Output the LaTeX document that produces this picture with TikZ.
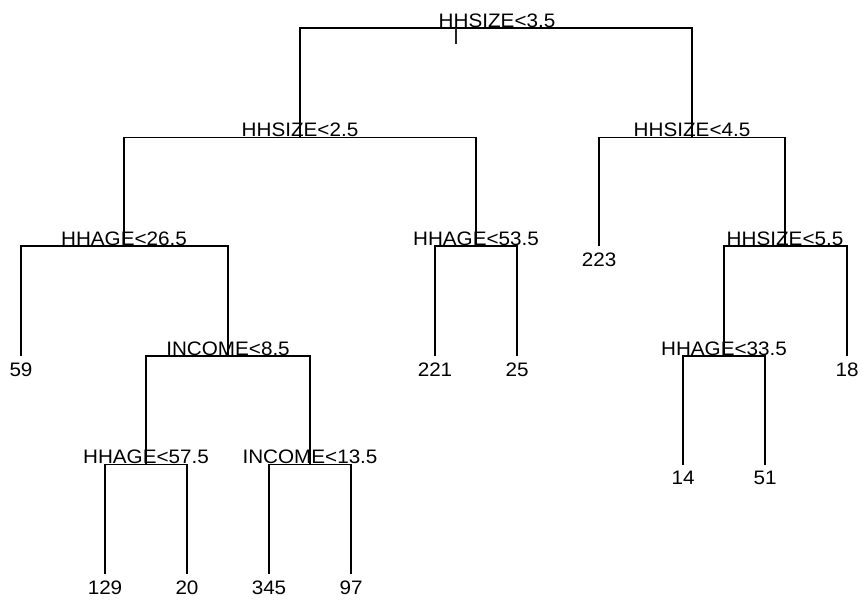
\documentclass[tikz,border=0pt]{standalone}
\usepackage{fontspec}
\setmainfont{Liberation Sans}[FakeStretch=1.06]
\begin{document}
\begin{tikzpicture}[x=1pt,y=-1pt,
  edge/.style={line width=1.9pt, line join=miter},
  tickmark/.style={line width=1.2pt, draw=black!85},
  lbl/.style={inner sep=0pt, anchor=base, text=black,
    font=\fontsize{19.5}{20}\selectfont},
  split/.style={lbl, yshift=1pt},
  leaf/.style={lbl, yshift=-20pt}]
\useasboundingbox (0,0) rectangle (867,600);

% node positions (x at the node, y at its split bar / leaf end)
\coordinate (n1)  at (497,28);
\coordinate (n2)  at (300,137.5);
\coordinate (n3)  at (692,137.5);
\coordinate (n4)  at (124,246);
\coordinate (n5)  at (476,246);
\coordinate (n6)  at (599,246);
\coordinate (n7)  at (785,246);
\coordinate (n8)  at (21,356);
\coordinate (n9)  at (228,356);
\coordinate (n10) at (435,356);
\coordinate (n11) at (517,356);
\coordinate (n14) at (724,356);
\coordinate (n15) at (847,356);
\coordinate (n18) at (146,464.5);
\coordinate (n19) at (310,464.5);
\coordinate (n28) at (683,464.5);
\coordinate (n29) at (765,464.5);
\coordinate (n36) at (105,574);
\coordinate (n37) at (187,574);
\coordinate (n38) at (269,574);
\coordinate (n39) at (351,574);
\coordinate (tickA) at (456,28);
\coordinate (tickB) at (456,44);

% branches: left child up to the bar, across, down to the right child
\draw[edge] (n2)  |- (n1)  -| (n3);
\draw[edge] (n4)  |- (n2)  -| (n5);
\draw[edge] (n6)  |- (n3)  -| (n7);
\draw[edge] (n8)  |- (n4)  -| (n9);
\draw[edge] (n10) |- (n5)  -| (n11);
\draw[edge] (n14) |- (n7)  -| (n15);
\draw[edge] (n18) |- (n9)  -| (n19);
\draw[edge] (n28) |- (n14) -| (n29);
\draw[edge] (n36) |- (n18) -| (n37);
\draw[edge] (n38) |- (n19) -| (n39);
\draw[tickmark] (tickA) -- (tickB);

% split rules
\node[split] (s1)  at (n1)  {HHSIZE<3.5};
\node[split] (s2)  at (n2)  {HHSIZE<2.5};
\node[split] (s3)  at (n3)  {HHSIZE<4.5};
\node[split] (s4)  at (n4)  {HHAGE<26.5};
\node[split] (s5)  at (n5)  {HHAGE<53.5};
\node[split] (s7)  at (n7)  {HHSIZE<5.5};
\node[split] (s9)  at (n9)  {INCOME<8.5};
\node[split] (s14) at (n14) {HHAGE<33.5};
\node[split] (s18) at (n18) {HHAGE<57.5};
\node[split] (s19) at (n19) {INCOME<13.5};

% leaf values
\node[leaf] (l6)  at (n6)  {223};
\node[leaf] (l8)  at (n8)  {59};
\node[leaf] (l10) at (n10) {221};
\node[leaf] (l11) at (n11) {25};
\node[leaf] (l15) at (n15) {18};
\node[leaf] (l28) at (n28) {14};
\node[leaf] (l29) at (n29) {51};
\node[leaf] (l36) at (n36) {129};
\node[leaf] (l37) at (n37) {20};
\node[leaf] (l38) at (n38) {345};
\node[leaf] (l39) at (n39) {97};
\end{tikzpicture}
\end{document}
